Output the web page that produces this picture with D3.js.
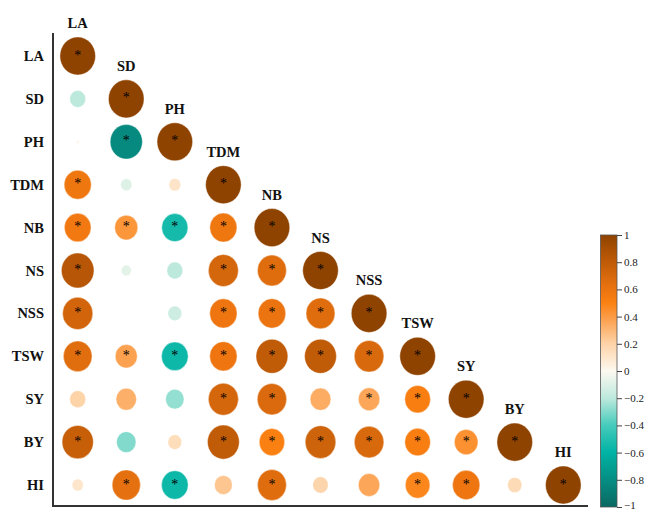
<!DOCTYPE html>
<html lang="en">
<head>
    <meta charset="UTF-8">
    <title>Correlation plot</title>
    <script src="https://d3js.org/d3.v7.min.js"></script>
    <style>
        body { margin: 0; background: #fff; }
        svg text { font-family: "Liberation Serif", "Times New Roman", serif; }
    </style>
</head>
<body>
    <svg width="646" height="510"></svg>
    <script>
        // trait names
        const traits = ["LA", "SD", "PH", "TDM", "NB", "NS", "NSS", "TSW", "SY", "BY", "HI"];

        // lower triangle, one row per trait (columns LA..diag)
        const rLA  = [1];
        const rSD  = [-0.20, 1];
        const rPH  = [0.01, -0.82, 1];
        const rTDM = [0.58, -0.10, 0.11, 1];
        const rNB  = [0.56, 0.42, -0.54, 0.58, 1];
        const rNS  = [0.84, -0.08, -0.20, 0.71, 0.66, 1];
        const rNSS = [0.72, 0.00, -0.15, 0.59, 0.60, 0.66, 1];
        const rTSW = [0.65, 0.38, -0.56, 0.59, 0.80, 0.80, 0.69, 1];
        const rSY  = [0.20, 0.33, -0.27, 0.71, 0.68, 0.34, 0.36, 0.52, 1];
        const rBY  = [0.77, -0.30, 0.15, 0.80, 0.51, 0.74, 0.69, 0.52, 0.44, 1];
        const rHI  = [0.10, 0.63, -0.56, 0.25, 0.66, 0.19, 0.36, 0.48, 0.59, 0.16, 1];

        // significance (1 = star)
        const sLA  = [1];
        const sSD  = [0, 1];
        const sPH  = [0, 1, 1];
        const sTDM = [1, 0, 0, 1];
        const sNB  = [1, 1, 1, 1, 1];
        const sNS  = [1, 0, 0, 1, 1, 1];
        const sNSS = [1, 0, 0, 1, 1, 1, 1];
        const sTSW = [1, 1, 1, 1, 1, 1, 1, 1];
        const sSY  = [0, 0, 0, 1, 1, 0, 1, 1, 1];
        const sBY  = [1, 0, 0, 1, 1, 1, 1, 1, 1, 1];
        const sHI  = [0, 1, 1, 0, 1, 0, 0, 1, 1, 0, 1];

        const colorTicks = [1, 0.8, 0.6, 0.4, 0.2, 0, -0.2, -0.4, -0.6, -0.8, -1];

        const rows = [rLA, rSD, rPH, rTDM, rNB, rNS, rNSS, rTSW, rSY, rBY, rHI];
        const sig = [sLA, sSD, sPH, sTDM, sNB, sNS, sNSS, sTSW, sSY, sBY, sHI];

        const cells = [];
        rows.forEach((row, i) => {
            row.forEach((v, j) => {
                cells.push({ row: traits[i], col: traits[j], value: v, star: sig[i][j] === 1 });
            });
        });

        const svg = d3.select('svg');

        const x = d3.scalePoint().domain(traits).range([77.7, 563.3]);
        const y = d3.scalePoint().domain(traits).range([56, 485]);

        const color = d3.scaleLinear()
            .domain([-1, -0.6, -0.4, -0.2, 0, 0.2, 0.4, 0.5, 0.6, 0.8, 1])
            .range(["#0b6861", "#00b3a4", "#45cbbb", "#bde9dd", "#fcf9f0", "#fdd3a8",
                    "#fb9b45", "#fb8112", "#ec7410", "#c05b08", "#8f4300"])
            .interpolate(d3.interpolateRgb);

        const radius = d3.scaleSqrt().domain([0, 1]).range([0, 17.8]);
        const stretch = 1.07; // circles look a touch taller than wide

        // axis frame
        svg.append('line')
            .attr('x1', 53).attr('x2', 53).attr('y1', 33).attr('y2', 506)
            .attr('stroke', '#333').attr('stroke-width', 2);
        svg.append('line')
            .attr('x1', 52).attr('x2', 588).attr('y1', 506).attr('y2', 506)
            .attr('stroke', '#333').attr('stroke-width', 2);

        // circles
        svg.append('g').selectAll('ellipse')
            .data(cells)
            .enter()
            .append('ellipse')
            .attr('cx', d => x(d.col))
            .attr('cy', d => y(d.row))
            .attr('rx', d => radius(Math.abs(d.value)))
            .attr('ry', d => radius(Math.abs(d.value)) * stretch)
            .attr('fill', d => color(d.value))
            .attr('stroke', '#fff')
            .attr('stroke-opacity', 0.5)
            .attr('stroke-width', 0.8);

        // stars
        svg.append('g').selectAll('text')
            .data(cells.filter(d => d.star))
            .enter()
            .append('text')
            .attr('x', d => x(d.col))
            .attr('y', d => y(d.row) + 3.5)
            .attr('text-anchor', 'middle')
            .attr('font-size', 14)
            .attr('fill', '#000')
            .text('*');

        // row labels
        svg.append('g').selectAll('text')
            .data(traits)
            .enter()
            .append('text')
            .attr('x', 44)
            .attr('y', d => y(d) + 5)
            .attr('text-anchor', 'end')
            .attr('font-size', 14.5)
            .attr('font-weight', 'bold')
            .attr('fill', '#111')
            .text(d => d);

        // column labels above diagonal
        svg.append('g').selectAll('text')
            .data(traits)
            .enter()
            .append('text')
            .attr('x', d => x(d))
            .attr('y', d => y(d) - 28)
            .attr('text-anchor', 'middle')
            .attr('font-size', 14.5)
            .attr('font-weight', 'bold')
            .attr('fill', '#111')
            .text(d => d);

        // color bar
        const cy = d3.scaleLinear().domain([-1, 1]).range([507, 235]);
        const defs = svg.append('defs');
        const grad = defs.append('linearGradient')
            .attr('id', 'cbar')
            .attr('x1', 0).attr('x2', 0).attr('y1', 1).attr('y2', 0);
        grad.selectAll('stop')
            .data(d3.range(0, 21))
            .enter()
            .append('stop')
            .attr('offset', d => d / 20)
            .attr('stop-color', d => color(-1 + d / 10));

        svg.append('rect')
            .attr('x', 600.5)
            .attr('y', cy(1))
            .attr('width', 16.5)
            .attr('height', cy(-1) - cy(1))
            .attr('fill', 'url(#cbar)')
            .attr('stroke', '#555')
            .attr('stroke-width', 0.8);

        const cAxis = svg.append('g').attr('transform', 'translate(617,0)')
            .call(d3.axisRight(cy).tickValues(colorTicks).tickSize(5).tickFormat(d3.format('')));
        cAxis.select('.domain').remove();
        cAxis.selectAll('.tick line').attr('stroke', '#444');
        cAxis.selectAll('.tick text')
            .attr('x', 7)
            .attr('font-size', 11)
            .attr('font-family', '"Liberation Serif", serif')
            .attr('fill', '#222');
        // keep the bottom label inside the frame
        cAxis.selectAll('.tick text').filter(d => d === -1).attr('dy', '0.1em');
    </script>
</body>
</html>
